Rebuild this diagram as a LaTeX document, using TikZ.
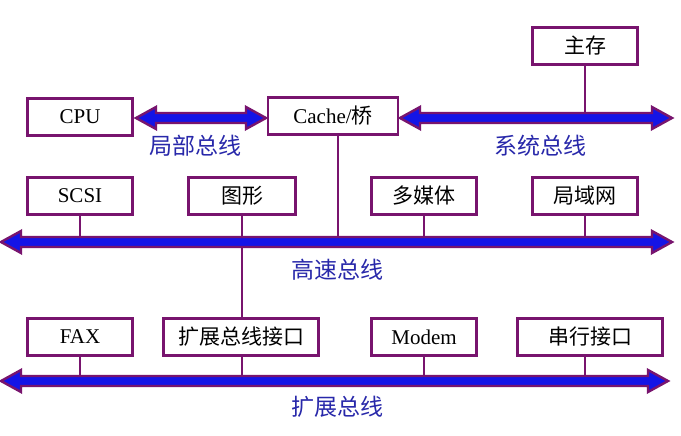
\documentclass[tikz,border=0pt]{standalone}
\usepackage{fontspec}
\setmainfont{Liberation Serif}
\newfontfamily\cjk{Noto Sans CJK SC}
\definecolor{pur}{RGB}{120,20,110}
\definecolor{bblue}{RGB}{20,20,230}
\definecolor{lblue}{RGB}{40,40,170}
\newcommand{\mybus}[3]{% x1 x2 y
  \draw[pur,line width=2.4pt,fill=bblue,line join=miter]
   (#1,#3) -- (#1+20,#3-11) -- (#1+20,#3-5) -- (#2-20,#3-5) -- (#2-20,#3-11)
   -- (#2,#3) -- (#2-20,#3+11) -- (#2-20,#3+5) -- (#1+20,#3+5) -- (#1+20,#3+11) -- cycle;}
\begin{document}
\begin{tikzpicture}[x=1pt,y=-1pt,
  box/.style={draw=pur,line width=2.4pt,fill=white,minimum height=37pt,inner sep=0pt,font=\fontsize{21}{23}\selectfont},
  lab/.style={text=lblue,font=\cjk\fontsize{23}{25}\selectfont},
  ln/.style={pur,line width=2.4pt}]
\useasboundingbox (0,0) rectangle (681,436);
\fill[white] (0,0) rectangle (681,436);
\coordinate (hs1) at (80,242); \coordinate (hs2) at (242,242); \coordinate (hs3) at (338,242);
\coordinate (hs4) at (424,242); \coordinate (hs5) at (585,242);
\coordinate (ex1) at (80,381); \coordinate (ex2) at (242,381); \coordinate (ex3) at (424,381); \coordinate (ex4) at (585,381);
\coordinate (sb) at (585,118);
\node[box,minimum width=105pt] (mem) at (585,46) {\cjk 主存};
\node[box,minimum width=105pt] (cpu) at (80,117) {CPU};
\node[box,minimum width=130pt] (cache) at (333,116) {Cache/\cjk 桥};
\node[box,minimum width=105pt] (scsi) at (80,196) {SCSI};
\node[box,minimum width=107pt] (gfx) at (242,196) {\cjk 图形};
\node[box,minimum width=105pt] (mm) at (424,196) {\cjk 多媒体};
\node[box,minimum width=105pt] (lan) at (585,196) {\cjk 局域网};
\node[box,minimum width=105pt] (fax) at (80,337) {FAX};
\node[box,minimum width=155pt] (ebi) at (241,337) {\cjk 扩展总线接口};
\node[box,minimum width=105pt] (modem) at (424,337) {Modem};
\node[box,minimum width=145pt] (ser) at (590,337) {\cjk 串行接口};
\draw[ln] (mem.south) -- (sb);
\draw[ln] (cache.south -| hs3) -- (hs3);
\draw[ln] (scsi.south) -- (hs1);
\draw[ln] (gfx.south) -- (ebi.north -| gfx.south);
\draw[ln] (mm.south) -- (hs4);
\draw[ln] (lan.south) -- (hs5);
\draw[ln] (fax.south) -- (ex1);
\draw[ln] (ebi.south -| ex2) -- (ex2);
\draw[ln] (modem.south) -- (ex3);
\draw[ln] (ser.south -| ex4) -- (ex4);
\mybus{136}{266}{118}
\mybus{400}{672}{118}
\mybus{1}{672}{242}
\mybus{1}{668}{381}
\node[lab] (l1) at (195,146) {局部总线};
\node[lab] (l2) at (540,146) {系统总线};
\node[lab] (l3) at (337,270) {高速总线};
\node[lab] (l4) at (337,407) {扩展总线};
\end{tikzpicture}
\end{document}
